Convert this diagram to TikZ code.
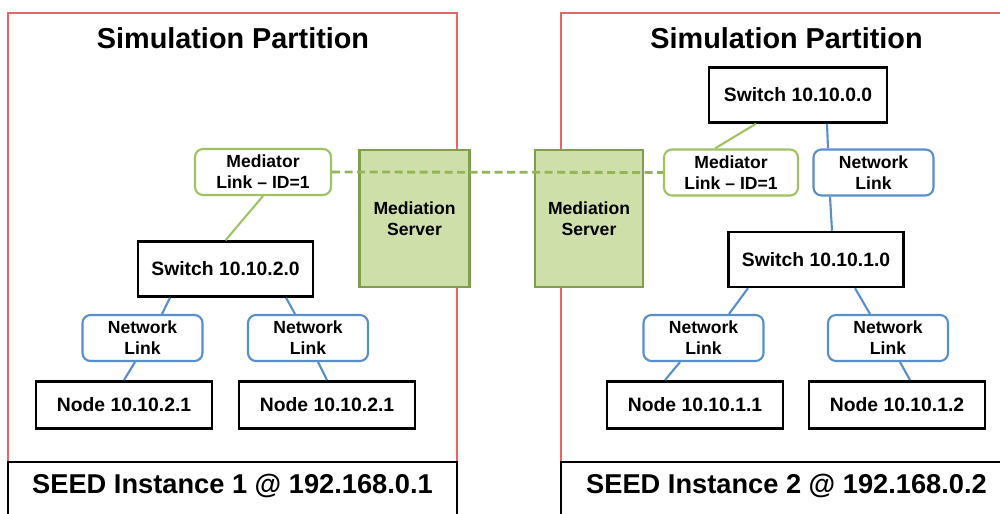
\documentclass[tikz,border=0pt]{standalone}
\usepackage{fontspec}
\setmainfont{Liberation Sans}
\usetikzlibrary{positioning, calc}
\definecolor{partred}{RGB}{226,104,104}
\definecolor{linkblue}{RGB}{88,142,206}
\definecolor{medgreen}{RGB}{160,194,100}
\definecolor{medfill}{RGB}{207,223,170}
\definecolor{medborder}{RGB}{128,158,78}
\definecolor{meddash}{RGB}{146,182,86}
\newcommand{\boldsize}[2]{\fontsize{#1}{#2}\selectfont\bfseries}

\begin{document}
\begin{tikzpicture}[
  frame/.style={partred, line width=1pt},
  seedline/.style={black, line width=1.4pt},
  title/.style={font=\boldsize{16.4}{19}},
  seed/.style={font=\boldsize{15.5}{18}},
  box/.style={draw=black, fill=white, line width=1.4pt, minimum width=3.5cm, minimum height=1.1cm, font=\boldsize{11}{13}},
  nodebox/.style={box, minimum width=3.52cm, minimum height=0.94cm},
  netlink/.style={draw=linkblue, fill=white, line width=1.2pt, rounded corners=0.16cm, minimum width=2.4cm, minimum height=0.92cm, inner sep=1pt, align=center, font=\boldsize{10}{12}},
  medlink/.style={netlink, draw=medgreen, minimum width=2.72cm},
  server/.style={draw=medborder, fill=medfill, line width=1.4pt, minimum width=2.2cm, minimum height=2.74cm, align=center, font=\boldsize{10}{12}},
  wire/.style={linkblue, line width=1.2pt},
  medwire/.style={medgreen, line width=1.2pt}]
\useasboundingbox (0,0) rectangle (20,10.28);

% partitions
\draw[frame] (0.16,1.04) rectangle (9.14,10.02);
\draw[frame] (20.3,10.02) -| (11.22,1.04);
\draw[seedline] (0.16,-0.3) |- (9.14,1.04) -- (9.14,-0.3);
\draw[seedline] (11.22,-0.3) |- (20.3,1.04);
\node[title] (TITLE1) at (4.66,9.52)  {Simulation Partition};
\node[title] (TITLE2) at (15.73,9.52) {Simulation Partition};
\node[seed]  (SEED1)  at (4.65,0.56)  {SEED Instance 1 @ 192.168.0.1};
\node[seed]  (SEED2)  at (15.73,0.56) {SEED Instance 2 @ 192.168.0.2};

% mediation servers
\node[server] (MS1) at (8.29,5.91)  {Mediation\\Server};
\node[server, minimum width=2.16cm] (MS2) at (11.78,5.91) {Mediation\\Server};

% instance 1
\node[medlink] (ML1)  at (5.26,6.84) {Mediator\\Link -- ID=1};
\node[box]     (SW20) at (4.51,4.90) {Switch 10.10.2.0};
\node[netlink] (NL21) at (2.85,3.52) {Network\\Link};
\node[netlink] (NL22) at (6.16,3.52) {Network\\Link};
\node[nodebox] (ND21) [below=0.36cm of NL21, xshift=-0.37cm] {Node 10.10.2.1};
\node[nodebox] (ND22) [below=0.36cm of NL22, xshift=0.38cm]  {Node 10.10.2.1};

% instance 2
\node[box, minimum width=3.56cm] (SW00) at (15.96,8.38) {Switch 10.10.0.0};
\node[medlink, minimum width=2.68cm] (ML2) at (14.62,6.83) {Mediator\\Link -- ID=1};
\node[netlink] (NL00) at (17.47,6.83) {Network\\Link};
\node[box]     (SW10) at (16.32,5.09) {Switch 10.10.1.0};
\node[netlink] (NL11) at (14.07,3.52) {Network\\Link};
\node[netlink] (NL12) at (17.76,3.52) {Network\\Link};
\node[nodebox] (ND11) [below=0.36cm of NL11, xshift=-0.17cm] {Node 10.10.1.1};
\node[nodebox] (ND12) [below=0.36cm of NL12, xshift=0.18cm]  {Node 10.10.1.2};

\path[medwire]
(ML1.south) edge (SW20.north)
([xshift=-0.84cm]SW00.south) edge ([xshift=-0.32cm]ML2.north);
\path[wire]
([xshift=-1.11cm]SW20.south) edge ([xshift=0.39cm]NL21.north)
([xshift=-0.15cm]NL21.south) edge (ND21.north)
([xshift=1.21cm]SW20.south)  edge ([xshift=-0.26cm]NL22.north)
([xshift=0.2cm]NL22.south)   edge (ND22.north)
([xshift=0.58cm]SW00.south)  edge ([xshift=-0.91cm]NL00.north)
([xshift=-0.87cm]NL00.south) edge ([xshift=0.32cm]SW10.north)
([xshift=-1.36cm]SW10.south) edge ([xshift=0.51cm]NL11.north)
([xshift=-0.47cm]NL11.south) edge ([xshift=-0.6cm]ND11.north)
([xshift=0.78cm]SW10.south)  edge ([xshift=-0.36cm]NL12.north)
([xshift=0.24cm]NL12.south)  edge ([xshift=0.26cm]ND12.north);

% mediator connection across the servers
\draw[meddash, line width=1.6pt, dash pattern=on 0.16cm off 0.09cm] (ML1.east) -- (ML2.west);
\end{tikzpicture}
\end{document}
